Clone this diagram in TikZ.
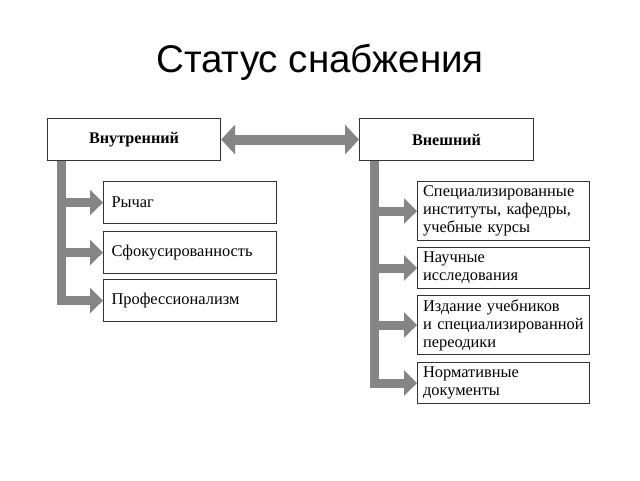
\documentclass[tikz,border=0pt]{standalone}
\usepackage{fontspec}
\setmainfont{Liberation Serif}
\newfontfamily\titlefont{Liberation Sans}
\usetikzlibrary{arrows.meta}
\definecolor{arr}{gray}{0.52}
\definecolor{edge}{gray}{0.2}
\begin{document}
\begin{tikzpicture}[x=1pt,y=-1pt,
  box/.style={draw=edge, line width=1.1pt, fill=white, anchor=north west,
    inner xsep=7pt, inner ysep=0pt, font=\fontsize{16.4}{18}\selectfont},
  headbox/.style={box, font=\bfseries\fontsize{16.2}{18}\selectfont, align=center,
    minimum width=173pt, minimum height=42pt},
  itembox/.style n args={3}{box, align=left, inner xsep=#3pt,
    text width=#1pt-2*#3pt, minimum width=#1pt, minimum height=#2pt},
  link/.style={draw=arr, line width=9pt, -{Triangle[length=13pt,width=25pt]}},
  bilink/.style={draw=arr, line width=10pt,
    {Triangle[length=14pt,width=29pt]}-{Triangle[length=14pt,width=29pt]}},
  trunk/.style={draw=arr, line width=9pt}
]
\useasboundingbox (0,0) rectangle (640,480);
\fill[white] (0,0) rectangle (640,480);

\node[font=\titlefont\fontsize{38.6}{42}\selectfont, anchor=base] (title) at (320,72) {Статус снабжения};

% header boxes
\node[headbox] (vin) at (47,118) {Внутренний};
\node[headbox, minimum width=174pt] (vex) at (359,118) {Внешний};

% left items
\node[itembox={173}{42}{8}] (l1) at (103,181) {Рычаг};
\node[itembox={173}{42}{8}] (l2) at (103,231) {Сфокусированность};
\node[itembox={173}{42}{8}] (l3) at (103,279) {Профессионализм};

% right items
\node[itembox={172}{59}{5.5}] (r1) at (417,181) {\mbox{Специализированные}\\\mbox{институты, кафедры,}\\\mbox{учебные курсы}};
\node[itembox={172}{41}{5.5}] (r2) at (417,247) {Научные\\исследования};
\node[itembox={172}{59}{5.5}] (r3) at (417,295) {\mbox{Издание учебников}\\\mbox{и специализированной}\\\mbox{переодики}};
\node[itembox={172}{41}{5.5}] (r4) at (417,362) {Нормативные\\документы};

\coordinate (tl) at (61,0);
\coordinate (tr) at (374,0);

% double arrow
\draw[bilink] (vin.east) -- (vex.west);

% left trunk and branches
\draw[trunk] (tl |- vin.south) -- ([yshift=-4.5pt]tl |- l3.west);
\foreach \b in {l1,l2,l3} \draw[link] (tl |- \b.west) -- (\b.west);

% right trunk and branches
\draw[trunk] (tr |- vex.south) -- ([yshift=-4.5pt]tr |- r4.west);
\foreach \b in {r1,r2,r3,r4} \draw[link] (tr |- \b.west) -- (\b.west);
\end{tikzpicture}
\end{document}
